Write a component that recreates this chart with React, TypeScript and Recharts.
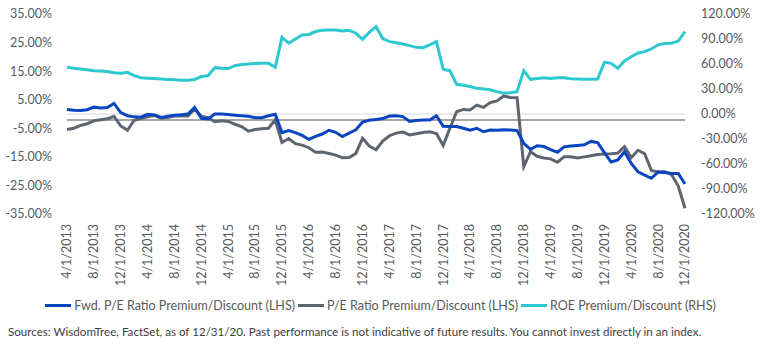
import { CartesianGrid, Line, LineChart, ReferenceLine, XAxis, YAxis } from "recharts";

// monthly points, 4/1/2013 .. 12/1/2020
const startYear = 2013;
const startMonth = 4;
const monthCount = 93;

const months: string[] = [];
for (let i = 0; i < monthCount; i++) {
  const m = ((startMonth - 1 + i) % 12) + 1;
  const y = startYear + Math.floor((startMonth - 1 + i) / 12);
  months.push(`${m}/1/${y}`);
}

const fwdPe = [
  1.6, 1.3, 1.2, 1.5, 2.4, 2.1, 2.3, 3.7, 0.5, -0.6,
  -1.0, -1.1, -0.1, -0.3, -1.2, -0.8, -0.4, -0.3, 0, 2.3,
  -1.5, -1.7, 0, 0, -0.2, -0.4, -0.6, -0.8, -1.3, -1.3,
  -0.6, -0.1, -6.5, -5.8, -6.5, -7.5, -8.9, -7.8, -7.0, -5.7,
  -6.4, -7.9, -6.7, -5.5, -2.8, -2.2, -1.9, -1.6, -0.7, -0.6,
  -0.9, -2.6, -2.3, -2.1, -2.1, -0.6, -4.3, -4.4, -4.4, -5.0,
  -5.7, -5.0, -6.2, -5.6, -5.7, -5.5, -5.6, -5.8, -10.3, -12.4,
  -11.1, -11.4, -12.5, -13.4, -11.5, -11.2, -11.0, -10.8, -9.6, -10.0,
  -13.5, -16.8, -16.1, -13.2, -17.3, -20.2, -21.4, -22.5, -20.3, -20.5,
  -20.8, -20.8, -24.5,
];

const pe = [
  -5.4, -5.0, -4.0, -3.4, -2.4, -2.0, -1.7, -0.8, -4.2, -5.7,
  -2.2, -1.6, -1.0, -0.5, -1.5, -1.2, -0.7, -0.7, -0.7, 1.8,
  -0.8, -1.3, -2.7, -2.4, -2.6, -3.6, -4.4, -6.0, -5.4, -5.2,
  -5.0, -2.0, -10.0, -8.6, -10.4, -10.9, -11.8, -13.4, -13.3, -13.8,
  -14.4, -15.3, -15.2, -13.8, -8.5, -11.2, -12.5, -9.5, -7.6, -6.7,
  -6.3, -7.3, -6.9, -6.5, -6.2, -6.8, -11.0, -5.0, 0.8, 1.6,
  1.4, 3.1, 2.3, 4.0, 4.6, 6.3, 5.8, 5.7, -18.4, -13.2,
  -14.8, -15.4, -15.7, -16.9, -15.0, -15.0, -15.4, -15.0, -14.6, -14.2,
  -14.0, -13.9, -13.7, -11.4, -15.2, -12.7, -13.9, -19.8, -20.3, -20.2,
  -21.2, -25.2, -33.0,
];

const roe = [
  56, 55, 54, 53, 52, 51.5, 51, 49.5, 49, 50,
  46, 43.5, 43, 42.5, 42, 41.5, 41, 40.5, 40.5, 41.5,
  45, 46, 55.6, 54.8, 54.5, 58, 59.5, 60, 60.5, 60.8,
  60.8, 56, 92, 85, 90, 94.8, 95.5, 99, 100.5, 100.8,
  100.8, 99.6, 100.5, 97, 89.6, 98, 104.8, 90.5, 86.8, 85.6,
  84, 82, 80, 79.6, 83, 86.8, 53.6, 52, 35.6, 34.5,
  33, 30.8, 30, 29, 26.8, 25, 25.5, 26.8, 52, 41.6,
  42.5, 43.6, 42.6, 43.5, 43.6, 42.4, 42, 41.6, 41.6, 42,
  62, 60.8, 54.8, 63.6, 68.8, 73.2, 74.8, 78, 83, 84.5,
  85, 87.5, 99,
];

const leftTicks = [35, 25, 15, 5, -5, -15, -25, -35];
const rightTicks = [120, 90, 60, 30, 0, -30, -60, -90, -120];
const baselineValue = -2.1;

const legendItems = [
  { label: "Fwd. P/E Ratio Premium/Discount (LHS)", color: "#0a45c0" },
  { label: "P/E Ratio Premium/Discount (LHS)", color: "#5d6670" },
  { label: "ROE Premium/Discount (RHS)", color: "#2ec8d0" },
];

const source =
  "Sources: WisdomTree, FactSet, as of 12/31/20. Past performance is not indicative of future results. You cannot invest directly in an index.";

const data = months.map((month, i) => ({
  month,
  fwdPe: fwdPe[i],
  pe: pe[i],
  roe: roe[i],
}));

const font = "Lato, 'Open Sans', sans-serif";
const textColor = "#595959";

const pct = (v: number) => `${v.toFixed(2)}%`;

function DateTick({ x, y, payload }: any) {
  return (
    <text
      x={x}
      y={y}
      transform={`rotate(-90 ${x} ${y})`}
      textAnchor="end"
      dy="0.35em"
      fill={textColor}
      fontSize={12.5}
      fontFamily={font}
    >
      {payload.value}
    </text>
  );
}

export default function App() {
  return (
    <div
      style={{
        position: "absolute",
        left: 0,
        top: 0,
        width: 761,
        height: 350,
        background: "#fff",
        fontFamily: font,
      }}
    >
      <LineChart width={761} height={300} data={data} margin={{ top: 14, right: 0, bottom: 14, left: 0 }}>
        <CartesianGrid stroke="none" />
        <XAxis
          dataKey="month"
          interval={3}
          axisLine={false}
          tickLine={false}
          tickSize={0}
          tickMargin={10}
          height={72}
          tick={<DateTick />}
        />
        <YAxis
          yAxisId="left"
          domain={[-35, 35]}
          ticks={leftTicks}
          tickFormatter={pct}
          width={67}
          axisLine={false}
          tickLine={false}
          tickSize={0}
          tickMargin={15}
          tick={{ fill: textColor, fontSize: 12.5, fontFamily: font }}
        />
        <YAxis
          yAxisId="right"
          orientation="right"
          domain={[-120, 120]}
          ticks={rightTicks}
          tickFormatter={pct}
          width={76}
          axisLine={false}
          tickLine={false}
          tickSize={0}
          tickMargin={16}
          tick={{ fill: textColor, fontSize: 12.5, fontFamily: font, textAnchor: "start" }}
        />
        <ReferenceLine yAxisId="left" y={0} stroke="#d9d9d9" strokeWidth={1} />
        <ReferenceLine yAxisId="left" y={baselineValue} stroke="#a6a6a6" strokeWidth={2} />
        <Line
          yAxisId="right"
          dataKey="roe"
          stroke="#2ec8d0"
          strokeWidth={3}
          dot={false}
          isAnimationActive={false}
        />
        <Line
          yAxisId="left"
          dataKey="pe"
          stroke="#5d6670"
          strokeWidth={3}
          dot={false}
          isAnimationActive={false}
        />
        <Line
          yAxisId="left"
          dataKey="fwdPe"
          stroke="#0a45c0"
          strokeWidth={3}
          dot={false}
          isAnimationActive={false}
        />
      </LineChart>
      <div
        style={{
          position: "absolute",
          top: 298,
          left: 0,
          width: 761,
          display: "flex",
          justifyContent: "center",
          fontSize: 12.5,
          color: textColor,
          gap: 3,
        }}
      >
        {legendItems.map((item) => (
          <div key={item.label} style={{ display: "flex", alignItems: "center", gap: 3 }}>
            <span style={{ display: "inline-block", width: 26, height: 3, background: item.color }} />
            <span>{item.label}</span>
          </div>
        ))}
      </div>
      <div
        style={{
          position: "absolute",
          top: 325,
          left: 8,
          fontSize: 11.6,
          color: "#404040",
          whiteSpace: "nowrap",
        }}
      >
        {source}
      </div>
    </div>
  );
}
